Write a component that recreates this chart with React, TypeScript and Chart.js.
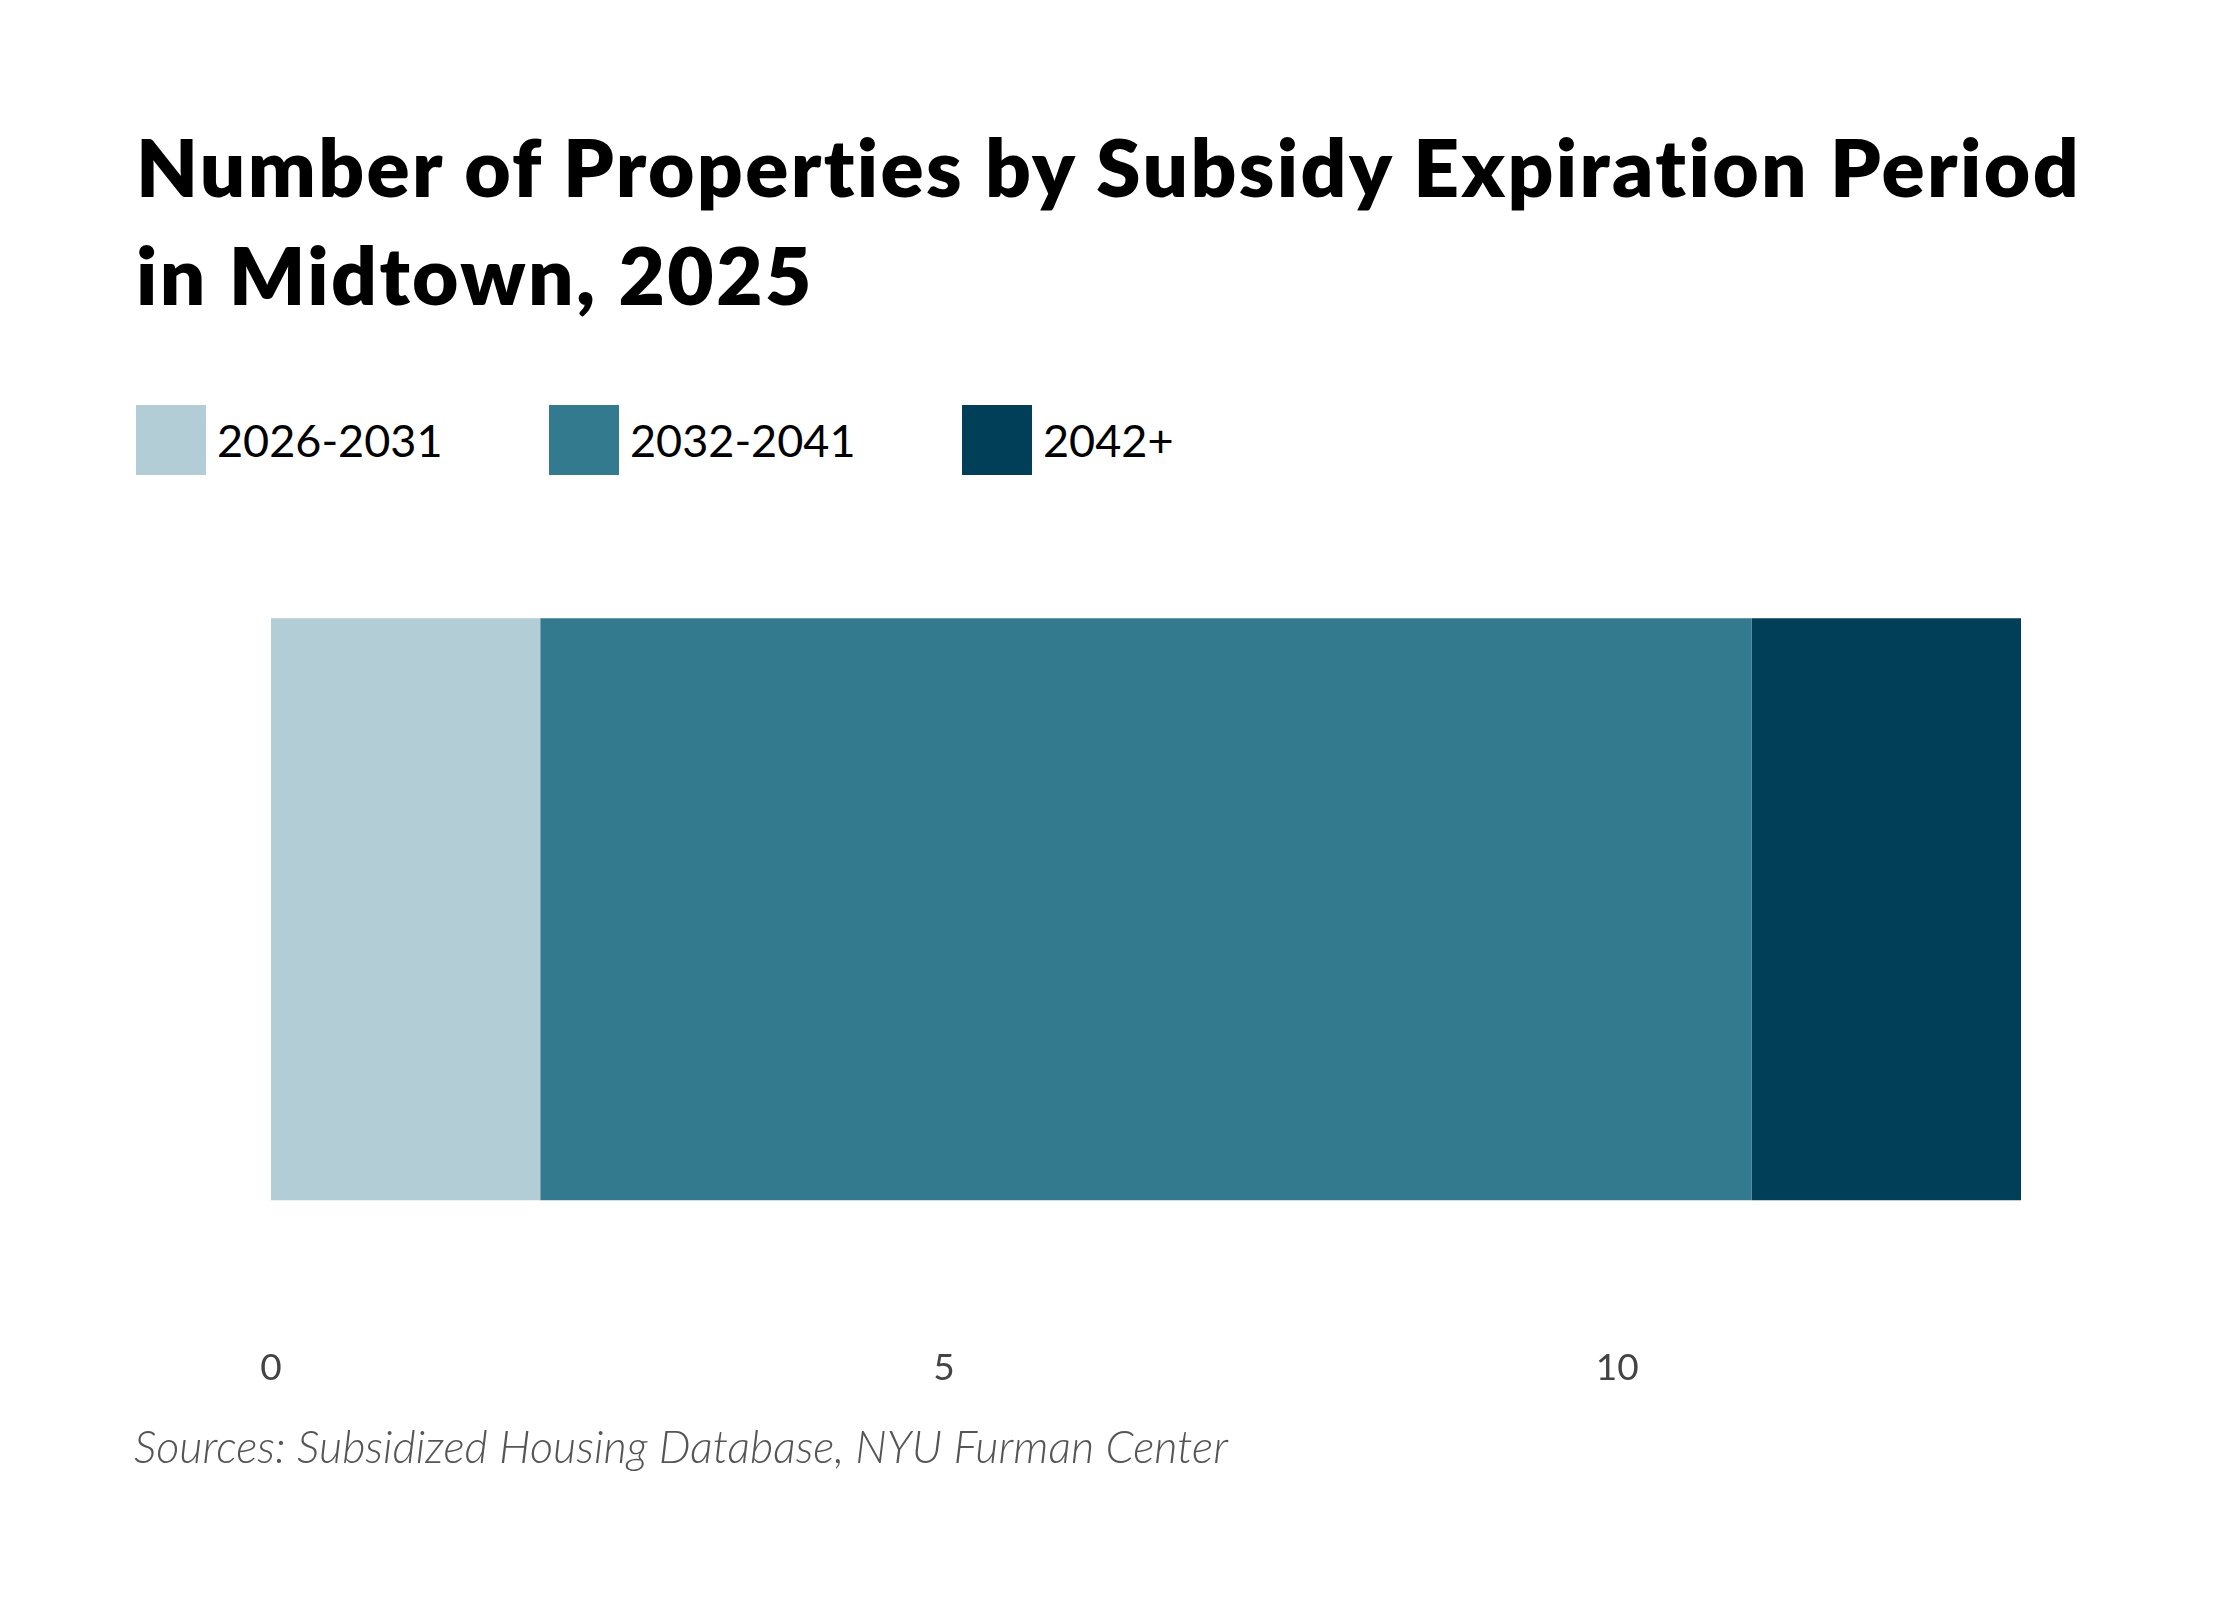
import { useEffect, useRef } from 'react';
import { Chart, registerables } from 'chart.js';

Chart.register(...registerables);

const categories = ['Midtown'];
const seriesLabels = ['2026-2031', '2032-2041', '2042+'];
const earlyValues = [2];
const middleValues = [9];
const lateValues = [2];
const seriesColors = ['#b3cdd6', '#347a8f', '#013e58'];
const tickValues = [0, 5, 10];

const titleText = 'Number of Properties by Subsidy Expiration Period in Midtown, 2025';
const sourceText = 'Sources: Subsidized Housing Database, NYU Furman Center';

export default function App() {
  const canvasRef = useRef<HTMLCanvasElement>(null);

  useEffect(() => {
    if (!canvasRef.current) return;
    const ctx = canvasRef.current.getContext('2d');
    if (!ctx) return;

    const seriesValues = [earlyValues, middleValues, lateValues];

    const chart = new Chart(ctx, {
      type: 'bar',
      data: {
        labels: categories,
        datasets: seriesLabels.map((label, i) => ({
          label,
          data: seriesValues[i],
          backgroundColor: seriesColors[i],
          borderWidth: 0,
          barPercentage: 0.826,
          categoryPercentage: 1,
        })),
      },
      options: {
        indexAxis: 'y',
        responsive: false,
        animation: false,
        devicePixelRatio: 1,
        layout: { padding: { left: 271, right: 219, top: 57, bottom: 6 } },
        plugins: {
          legend: { display: false },
          title: { display: false },
          tooltip: { enabled: false },
        },
        scales: {
          x: {
            stacked: true,
            min: 0,
            max: 13,
            grid: { display: false, drawTicks: false },
            border: { display: false },
            afterBuildTicks: (axis) => {
              axis.ticks = tickValues.map((value) => ({ value }));
            },
            ticks: {
              padding: 84,
              color: '#444',
              font: { family: 'Lato', size: 37 },
            },
          },
          y: { stacked: true, display: false },
        },
      },
    });

    return () => {
      chart.destroy();
    };
  }, []);

  return (
    <div
      style={{
        position: 'absolute',
        left: 0,
        top: 0,
        width: 2240,
        height: 1600,
        background: '#fff',
        fontFamily: 'Lato, sans-serif',
      }}
    >
      <div
        style={{
          position: 'absolute',
          left: 136,
          top: 112,
          width: 2000,
          fontSize: 80,
          lineHeight: '108px',
          fontWeight: 800,
          letterSpacing: 2.4,
          color: '#000',
        }}
      >
        {titleText}
      </div>
      {seriesLabels.map((label, i) => (
        <div
          key={label}
          style={{
            position: 'absolute',
            left: 136 + i * 413,
            top: 405,
            height: 70,
            display: 'flex',
            alignItems: 'center',
          }}
        >
          <span style={{ width: 70, height: 70, background: seriesColors[i], display: 'inline-block' }} />
          <span style={{ marginLeft: 11, fontSize: 45, color: '#000' }}>{label}</span>
        </div>
      ))}
      <canvas
        ref={canvasRef}
        width={2240}
        height={980}
        style={{ position: 'absolute', left: 0, top: 500, width: 2240, height: 980 }}
      />
      <div
        style={{
          position: 'absolute',
          left: 134,
          top: 1419,
          fontSize: 45,
          fontStyle: 'italic',
          fontWeight: 300,
          color: '#555',
        }}
      >
        {sourceText}
      </div>
    </div>
  );
}
